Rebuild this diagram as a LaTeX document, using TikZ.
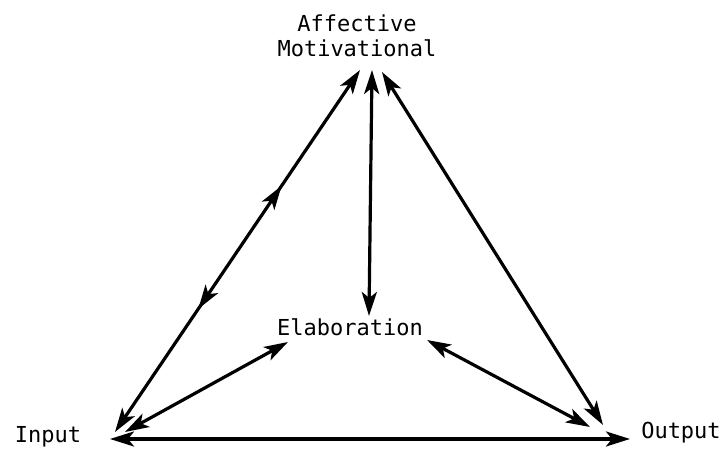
\documentclass[tikz,border=0pt]{standalone}
\usepackage{fontspec}
\setmainfont{DejaVu Sans Mono}
\usetikzlibrary{arrows.meta,positioning,calc,decorations.markings}

\begin{document}
\begin{tikzpicture}[x=0.5pt,y=0.5pt,
	>={Stealth[length=12pt,width=7.5pt,inset=3pt]},
	lbl/.style={inner sep=0pt,font=\fontsize{11}{12.5}\selectfont},
	edge/.style={line width=1.6pt,<->}]
	\useasboundingbox (0,0) rectangle (725,453);
	
	% labels
	\node[lbl,align=center] (aff) at (357,417) {Affective\\Motivational};
	\node[lbl] (elab) at (350,126) {Elaboration};
	\node[lbl] (inp) at (48,16) {Input};
	\node[lbl] (outp) at (681,20) {Output};
	
	% ends near Affective Motivational
	\coordinate (affL) at (360,383);
	\coordinate (affM) at (372,383);
	\coordinate (affR) at (382,381);
	
	% ends near Elaboration
	\coordinate (elabT) at (369,137);
	\coordinate (elabL) at (288,111);
	\coordinate (elabR) at (427,113);
	
	% ends near Input and Output
	\coordinate (inpA) at (115,21);
	\coordinate (inpE) at (125,21);
	\coordinate (inpO) at (110,14);
	\coordinate (outA) at (603,28);
	\coordinate (outE) at (590,26);
	\coordinate (outI) at (630,14);
	
	% outer triangle
	\draw[edge,postaction={decorate},decoration={markings,
		mark=at position 0.34 with {\arrowreversed{>}},
		mark=at position 0.68 with {\arrow{>}}}] (inpA)--(affL);
	\draw[edge] (affR)--(outA);
	\draw[edge] (inpO)--(outI);
	
	% spokes to Elaboration
	\draw[edge] (affM)--(elabT);
	\draw[edge] (inpE)--(elabL);
	\draw[edge] (elabR)--(outE);
\end{tikzpicture}
\end{document}
